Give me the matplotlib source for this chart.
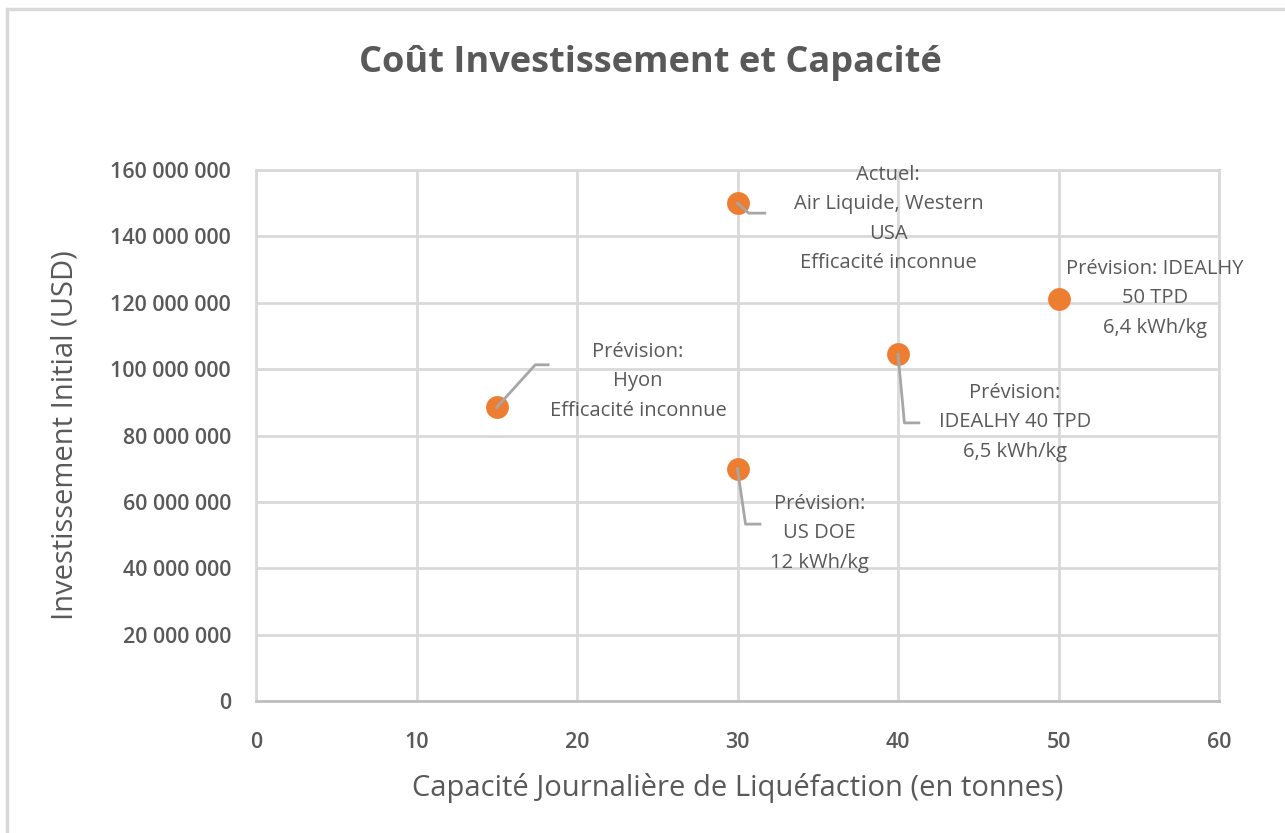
import matplotlib.pyplot as plt
from matplotlib.patches import Rectangle
from matplotlib.ticker import FuncFormatter

plt.rcParams["font.family"] = ["Open Sans", "DejaVu Sans"]

# capacity (t/day) and initial investment (USD)
capacite = [15, 30, 30, 40, 50]
invest = [88_500_000, 70_000_000, 150_000_000, 104_500_000, 121_000_000]
etiquettes = [
    "Prévision:\nHyon\nEfficacité inconnue",
    "Prévision:\nUS DOE\n12 kWh/kg",
    "Actuel:\nAir Liquide, Western\nUSA\nEfficacité inconnue",
    "Prévision:\nIDEALHY 40 TPD\n6,5 kWh/kg",
    "Prévision: IDEALHY\n50 TPD\n6,4 kWh/kg",
]
# label centres (data coords) and leader elbow points
pos_texte = [(23.8, 96.3e6), (35.1, 50.5e6), (39.4, 145.3e6), (47.3, 84.0e6), (56.0, 121.4e6)]
coudes = [
    [(17.4, 101.3e6), (18.2, 101.3e6)],
    [(30.5, 53.3e6), (31.4, 53.3e6)],
    [(30.7, 147.0e6), (31.7, 147.0e6)],
    [(40.4, 83.8e6), (41.3, 83.8e6)],
    None,
]

gris_texte = "#595959"
orange = "#ED7D31"
grille = "#d9d9d9"

fig = plt.figure(figsize=(12.85, 8.33), dpi=100)
ax = fig.add_axes([256 / 1285, 1 - 701 / 833, (1219 - 256) / 1285, (701 - 170) / 833])

# outer chart frame
fig.patches.append(Rectangle((7 / 1285, -0.05), 1.1, 1 - 9 / 833 + 0.05,
                             transform=fig.transFigure, fill=False,
                             edgecolor="#d9d9d9", linewidth=2.5))

ax.set_xlim(0, 60)
ax.set_ylim(0, 160_000_000)
ax.set_xticks(range(0, 61, 10))
ax.set_yticks(range(0, 160_000_001, 20_000_000))
ax.yaxis.set_major_formatter(FuncFormatter(lambda v, p: f"{int(v):,}".replace(",", " ")))
ax.grid(True, color=grille, linewidth=2)
ax.set_axisbelow(True)
for s in ax.spines.values():
    s.set_color(grille)
    s.set_linewidth(2)
ax.spines["bottom"].set_color("#bfbfbf")
ax.tick_params(length=0, labelsize=15.5, labelcolor=gris_texte)
ax.tick_params(axis="y", pad=18)
ax.tick_params(axis="x", pad=22)
for lab in ax.get_xticklabels() + ax.get_yticklabels():
    lab.set_fontweight("semibold")

ax.scatter(capacite, invest, s=270, color=orange, zorder=5, linewidths=0)

for x, y, txt, (tx, ty), coude in zip(capacite, invest, etiquettes, pos_texte, coudes):
    if coude is not None:
        xs = [x] + [c[0] for c in coude]
        ys = [y] + [c[1] for c in coude]
        ax.plot(xs, ys, color="#a6a6a6", linewidth=2, zorder=6)
    ax.text(tx, ty, txt, ha="center", va="center", fontsize=14.5,
            color=gris_texte, linespacing=1.63, zorder=7)

ax.set_xlabel("Capacité Journalière de Liquéfaction (en tonnes)", fontsize=21,
              color=gris_texte, labelpad=15)
ax.set_ylabel("Investissement Initial (USD)", fontsize=21, color=gris_texte, labelpad=22)
fig.text(650 / 1285, 1 - 63 / 833, "Coût Investissement et Capacité", ha="center",
         va="center", fontsize=26, fontweight="bold", color=gris_texte)

fig.savefig("out.png", dpi=100)
